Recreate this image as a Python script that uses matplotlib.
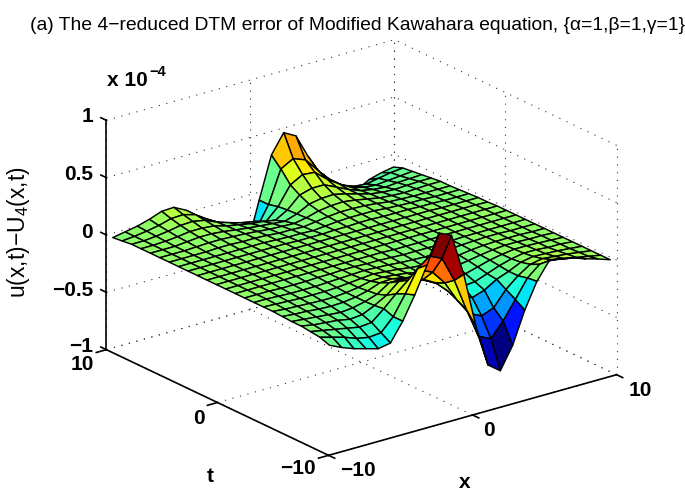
#!/usr/bin/python

# surface of the 4-reduced DTM error, drawn the way the MATLAB figure looks

import numpy as np
import matplotlib
matplotlib.use("Agg")
import matplotlib.pyplot as plt
from mpl_toolkits.mplot3d import Axes3D

plt.rcParams['font.family'] = ['Liberation Sans', 'DejaVu Sans']
plt.rcParams['mathtext.fontset'] = 'custom'
plt.rcParams['mathtext.rm'] = 'Liberation Sans'
plt.rcParams['mathtext.default'] = 'rm'

####################################
############ Get Data ##############
####################################

x_grid = [-9.75, -8.90, -8.05, -7.21, -6.36, -5.51, -4.66, -3.82, -2.97, -2.12, -1.27, -0.42,
          0.42, 1.27, 2.12, 2.97, 3.82, 4.66, 5.51, 6.36, 7.21, 8.05, 8.90, 9.75]
t_grid = [-9.75, -8.90, -8.05, -7.21, -6.36, -5.51, -4.66, -3.82, -2.97, -2.12, -1.27, -0.42,
          0.42, 1.27, 2.12, 2.97, 3.82, 4.66, 5.51, 6.36, 7.21, 8.05, 8.90, 9.75]

# one row per t (front to back), one column per x, in units of 1e-4
error = [
    [-.06, -.11, -.15, -.18, -.21, -.19, -.03, .17, .40, .65, .60, .23, -.25, -.62, -.70, -.51, -.23, -.01, .14, .126, .104, .068, .036, 0],
    [-.03, -.06, -.09, -.13, -.15, -.14, -.03, .14, .33, .41, .36, .14, -.145, -.41, -.46, -.336, -.178, -.02, .07, .08, .06, .04, .02, 0],
    [-.02, -.04, -.06, -.08, -.10, -.09, 0, .10, .19, .25, .20, .077, -.10, -.25, -.30, -.26, -.13, -.04, .03, .05, .04, .03, .015, 0],
    [-.01, -.03, -.04, -.05, -.07, -.06, -.01, .05, .14, .15, .10, .04, -.06, -.13, -.18, -.145, -.08, -.04, .01, .03, .025, .02, .01, 0],
    [-.01, -.02, -.03, -.04, -.05, -.04, -.015, .02, .09, .09, .06, .02, -.04, -.09, -.12, -.11, -.07, -.03, 0, .02, .02, .01, .01, 0],
    [-.005, -.015, -.02, -.03, -.035, -.03, -.015, .01, .05, .055, .035, .01, -.03, -.06, -.08, -.08, -.05, -.02, 0, .015, .015, .01, .005, 0],
    [0, -.01, -.015, -.02, -.025, -.025, -.015, 0, .025, .03, .02, .005, -.02, -.04, -.05, -.05, -.035, -.015, 0, .01, .01, .005, .005, 0],
    [0, -.005, -.01, -.015, -.015, -.015, -.01, 0, .01, .02, .01, 0, -.015, -.025, -.03, -.03, -.025, -.01, 0, .005, .005, .005, 0, 0],
    [0, 0, -.005, -.01, -.01, -.01, -.005, 0, .005, .01, .005, 0, -.01, -.015, -.02, -.02, -.015, -.005, 0, .005, .005, 0, 0, 0],
    [0, 0, 0, -.005, -.005, -.005, 0, 0, .005, .005, 0, 0, -.005, -.01, -.01, -.01, -.01, -.005, 0, 0, 0, 0, 0, 0],
    [0, 0, 0, 0, 0, 0, 0, 0, 0, 0, 0, 0, 0, -.005, -.005, -.005, -.005, 0, 0, 0, 0, 0, 0, 0],
    [0, 0, 0, 0, 0, 0, 0, 0, 0, 0, 0, 0, 0, 0, 0, 0, 0, 0, 0, 0, 0, 0, 0, 0],
    [0, 0, 0, 0, 0, 0, 0, 0, 0, 0, 0, 0, 0, 0, 0, 0, 0, 0, 0, 0, 0, 0, 0, 0],
    [0, 0, 0, 0, 0, 0, 0, 0, 0, 0, 0, 0, 0, 0, 0, 0, 0, 0, 0, 0, 0, 0, 0, -.005],
    [0, 0, 0, 0, 0, 0, 0, 0, 0, 0, 0, 0, 0, 0, 0, 0, 0, 0, 0, 0, -.005, -.005, -.005, -.005],
    [0, 0, 0, 0, 0, 0, 0, 0, 0, -.005, -.005, -.005, 0, 0, .005, .005, 0, 0, 0, -.005, -.005, -.01, -.01, -.01],
    [0, 0, 0, 0, 0, 0, 0, 0, -.005, -.01, -.01, -.015, -.005, .005, .01, .01, .01, 0, -.005, -.01, -.01, -.015, -.015, -.015],
    [0, 0, 0, 0, .005, .005, 0, 0, -.005, -.015, -.015, -.02, -.005, .01, .02, .02, .015, .005, -.01, -.015, -.02, -.02, -.02, -.02],
    [0, 0, 0, .005, .01, .01, .005, 0, -.01, -.02, -.025, -.03, -.01, .02, .035, .04, .025, .005, -.015, -.025, -.03, -.025, -.02, -.02],
    [0, 0, 0, .01, .02, .02, .01, -.005, -.02, -.03, -.04, -.05, -.015, .04, .06, .065, .04, .01, -.02, -.035, -.04, -.035, -.03, -.03],
    [0, 0, .005, .015, .03, .03, .02, -.01, -.03, -.05, -.06, -.08, -.02, .08, .11, .11, .06, .01, -.03, -.05, -.06, -.05, -.045, -.04],
    [0, 0, .01, .025, .045, .05, .03, -.015, -.05, -.08, -.10, -.13, -.03, .13, .19, .18, .09, .02, -.04, -.07, -.08, -.07, -.06, -.05],
    [-.01, 0, .015, .035, .065, .07, .04, -.03, -.09, -.13, -.17, -.23, -.05, .23, .29, .25, .13, .02, -.06, -.10, -.11, -.09, -.07, -.06],
    [-.02, 0, .02, .05, .09, .095, .04, -.07, -.17, -.23, -.28, -.42, -.05, .314, .478, .42, .21, .035, -.11, -.17, -.20, -.14, -.11, -.09],
]

x_ticks = [-10, 0, 10]
t_ticks = [-10, 0, 10]
z_ticks = [-1, -0.5, 0, 0.5, 1]

X, T = np.meshgrid(x_grid, t_grid)
Z = np.array(error)

####################################
############ Plot ##################
####################################

fig = plt.figure(figsize=(6.85, 4.92), dpi=100)
W = 554.0
ax = fig.add_axes([77.0 / 685, -40.0 / 492, W / 685, W / 492], projection='3d', proj_type='ortho')
ax.set_box_aspect((364, 366, 247))
ax.view_init(elev=21.4, azim=-127.5)
ax.set_axis_off()
ax.computed_zorder = False
ax.set_xlim(-10, 10)
ax.set_ylim(-10, 10)
ax.set_zlim(-1, 1)

# dotted grid on the floor and the two back walls
dots = dict(color='#333333', lw=0.8, ls=(0, (1, 6)), zorder=1)
for v in x_ticks:
    ax.plot([v, v], [-10, 10], [-1, -1], **dots)
    ax.plot([v, v], [10, 10], [-1, 1], **dots)
for v in t_ticks:
    ax.plot([-10, 10], [v, v], [-1, -1], **dots)
    ax.plot([10, 10], [v, v], [-1, 1], **dots)
for v in z_ticks:
    ax.plot([-10, 10], [10, 10], [v, v], **dots)
    ax.plot([10, 10], [-10, 10], [v, v], **dots)

# jet with 64 levels like the MATLAB default, flat colour from the first vertex
norm = plt.Normalize(Z.min(), Z.max())
colors = matplotlib.colormaps['jet'].resampled(64)(norm(Z))
ax.plot_surface(X, T, Z, facecolors=colors, rcount=24, ccount=24, shade=False,
                edgecolor='black', linewidth=1.05, zorder=2)

# solid axis lines with their ticks
solid = dict(color='black', lw=1.2, zorder=3)
ax.plot([-10, -10], [10, 10], [-1, 1], **solid)
ax.plot([-10, -10], [-10, 10], [-1, -1], **solid)
ax.plot([-10, 10], [-10, -10], [-1, -1], **solid)
for v in x_ticks:
    ax.plot([v, v], [-10, -10.55], [-1, -1], **solid)
for v in t_ticks:
    ax.plot([-10, -10.7], [v, v], [-1, -1], **solid)
for v in z_ticks:
    ax.plot([-10, -10], [10, 10.5], [v, v], **solid)


def put(px, py, s, **kw):
    fig.text(px / 685, 1 - py / 492, s, **kw)


bold = dict(fontsize=15, fontweight='bold', va='center')

put(358, 26, "(a) The 4\u2212reduced DTM error of Modified Kawahara equation, {\u03b1=1,\u03b2=1,\u03b3=1}",
    fontsize=13.85, ha='center', va='center')
put(107, 80, "x 10", ha='left', **bold)
put(149, 72, "\u22124", ha='left', fontsize=10.5, fontweight='bold', va='center')

for v, y, s in zip(z_ticks, [346, 290, 232, 175, 117], ["\u22121", "\u22120.5", "0", "0.5", "1"]):
    put(93, y, s, ha='right', **bold)
put(82, 365, "10", ha='center', **bold)
put(199, 418, "0", ha='center', **bold)
put(298, 469, "\u221210", ha='center', **bold)
put(210, 476, "t", ha='center', **bold)
put(358, 470, "\u221210", ha='center', **bold)
put(489, 431, "0", ha='center', **bold)
put(640, 391, "10", ha='center', **bold)
put(465, 482, "x", ha='center', **bold)
put(19, 232, "u(x,t)\u2212U$_{4}$(x,t)", fontsize=16.5, rotation=90, ha='center', va='center')

fig.savefig("out.png", dpi=100)
